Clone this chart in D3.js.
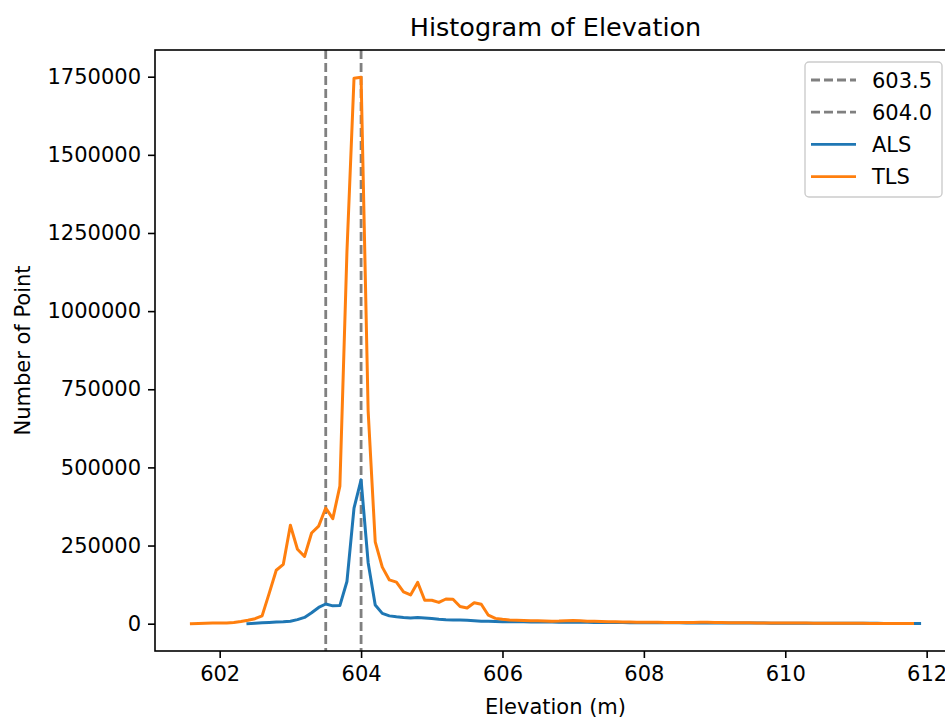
<!DOCTYPE html>
<html>
<head>
<meta charset="utf-8">
<script src="https://cdn.jsdelivr.net/npm/d3@7/dist/d3.min.js"></script>
<style>
	body { margin: 0; background: #fff; }
	text { font-family: "DejaVu Sans", sans-serif; fill: #000; }
</style>
</head>
<body>
<div id="graphed"></div>
<script>
// histogram bins, 0.1 m wide
var binWidth = 0.1;
var alsStart = 602.4;
var tlsStart = 601.6;

var alsCounts = [0, 1500, 3000, 4000, 5000, 6000, 8000, 13000, 20000, 35000,
	52000, 63000, 57000, 58000, 135000, 370000, 460000, 195000, 60000, 33000,
	25000, 22000, 20000, 18500, 20000, 18500, 16500, 14000, 12500, 12000,
	11500, 11000, 9500, 8000, 7500, 7000,
	6500, 6200, 6000, 5800, 5600, 5400, 5200, 5000, 4900, 4800,
	4700, 4500, 4300, 4100, 3900, 3700, 3500, 3400, 3300, 3200,
	3100, 3000, 2900, 2800, 2700, 2600, 2500, 2450, 2400, 2350,
	2300, 2200, 2100, 2000, 1950, 1900, 1850, 1800, 1750, 1700,
	1650, 1600, 1550, 1500, 1450, 1400, 1350, 1300, 1250, 1200,
	1150, 1100, 1050, 1000, 950, 900, 850, 800, 750, 700];

var tlsCounts = [0, 500, 1000, 2000, 2500, 2000, 4000, 7000, 11000, 16000,
	25000, 97000, 171000, 190000, 315000, 238000, 215000, 290000, 312000, 370000,
	336000, 440000, 1190000, 1745000, 1748000, 680000, 262000, 181000, 140000, 133000,
	102000, 92000, 132000, 75000, 75000, 68000, 79000, 78000, 55000, 50000,
	67000, 62000, 27000, 17000, 14000,
	12000, 11000, 10000, 9500, 9000, 8500, 8000, 8500, 9500, 10000,
	9000, 8000, 7500, 7000, 6500, 6000, 5500, 5000, 4800, 4600,
	4400, 4200, 4000, 3800, 3600, 3600, 3800, 4200, 4500, 4000,
	3600, 3300, 3000, 2800, 2600, 2500, 2400, 2300, 2200, 2100,
	2000, 1900, 1800, 1700, 1600, 1500, 1400, 1300, 1200, 1100,
	1000, 950, 900, 850, 800, 700, 650, 600];

var markLines = [603.5, 604.0];
var markLabels = ["603.5", "604.0"];
var seriesNames = ["ALS", "TLS"];
var seriesColors = ["#1f77b4", "#ff7f0e"];
var xTicks = [602, 604, 606, 608, 610, 612];
var yTicks = [0, 250000, 500000, 750000, 1000000, 1250000, 1500000, 1750000];

var W = 945, H = 719;
var mLeft = 155, mRight = 956, mTop = 50, mBottom = 651;
var fontSize = "21px";

function toPoints(start, counts) {
	return counts.map(function(c, i) {
		return [start + i * binWidth, c];
	});
}
var alsData = toPoints(alsStart, alsCounts);
var tlsData = toPoints(tlsStart, tlsCounts);

var xMin = Math.min(alsStart, tlsStart);
var xMax = Math.max(alsStart + (alsCounts.length - 1) * binWidth, tlsStart + (tlsCounts.length - 1) * binWidth);
var xPad = (xMax - xMin) * 0.05;
var yMax = d3.max(alsCounts.concat(tlsCounts));
var yPad = yMax * 0.05;

var x = d3.scaleLinear().domain([xMin - xPad, xMax + xPad]).range([mLeft, mRight]);
var y = d3.scaleLinear().domain([-yPad, yMax + yPad]).range([mBottom, mTop]);

var svg = d3.select("#graphed").append("svg").attr("width", W).attr("height", H);

// dashed reference lines
svg.selectAll("line.mark").data(markLines).enter().append("line")
	.attr("class", "mark")
	.attr("x1", function(d) { return x(d); }).attr("x2", function(d) { return x(d); })
	.attr("y1", mTop).attr("y2", mBottom)
	.attr("stroke", "#808080").attr("stroke-width", 2.8)
	.attr("stroke-dasharray", "9,4");

var line = d3.line().x(function(d) { return x(d[0]); }).y(function(d) { return y(d[1]); });

svg.selectAll("path.series").data([alsData, tlsData]).enter().append("path")
	.attr("class", "series")
	.attr("d", line)
	.attr("fill", "none")
	.attr("stroke", function(d, i) { return seriesColors[i]; })
	.attr("stroke-width", 3)
	.attr("stroke-linejoin", "round").attr("stroke-linecap", "square");

// axes
var xAxis = svg.append("g").attr("transform", "translate(0," + mBottom + ")")
	.call(d3.axisBottom(x).tickValues(xTicks).tickSize(7).tickPadding(7).tickSizeOuter(0).tickFormat(d3.format("d")));
var yAxis = svg.append("g").attr("transform", "translate(" + mLeft + ",0)")
	.call(d3.axisLeft(y).tickValues(yTicks).tickSize(7).tickPadding(7).tickSizeOuter(0).tickFormat(d3.format("d")));
[xAxis, yAxis].forEach(function(a) {
	a.select(".domain").remove();
	a.selectAll("line").attr("stroke", "#000").attr("stroke-width", 1.6);
	a.selectAll("text").attr("font-size", fontSize).attr("font-family", "DejaVu Sans");
});
xAxis.selectAll("text").attr("dy", "0.76em");

// spines
svg.append("rect").attr("x", mLeft).attr("y", mTop)
	.attr("width", mRight - mLeft).attr("height", mBottom - mTop)
	.attr("fill", "none").attr("stroke", "#000").attr("stroke-width", 1.6);

// titles
svg.append("text").attr("x", (mLeft + mRight) / 2).attr("y", 36)
	.attr("text-anchor", "middle").attr("font-size", "25.5px").text("Histogram of Elevation");
svg.append("text").attr("x", (mLeft + mRight) / 2).attr("y", 714)
	.attr("text-anchor", "middle").attr("font-size", fontSize).text("Elevation (m)");
svg.append("text").attr("transform", "translate(30," + ((mTop + mBottom) / 2) + ") rotate(-90)")
	.attr("text-anchor", "middle").attr("font-size", fontSize).text("Number of Point");

// legend
var legend = svg.append("g");
legend.append("rect").attr("x", 805).attr("y", 62).attr("width", 137).attr("height", 135)
	.attr("rx", 4).attr("fill", "#fff").attr("fill-opacity", 0.8)
	.attr("stroke", "#cccccc").attr("stroke-width", 1.4);
var legendItems = [
	{ label: markLabels[0], color: "#808080", dash: "9,4" },
	{ label: markLabels[1], color: "#808080", dash: "9,4" },
	{ label: seriesNames[0], color: seriesColors[0], dash: null },
	{ label: seriesNames[1], color: seriesColors[1], dash: null }
];
var rows = legend.selectAll("g.item").data(legendItems).enter().append("g")
	.attr("class", "item")
	.attr("transform", function(d, i) { return "translate(0," + (80 + i * 32.2) + ")"; });
rows.append("line").attr("x1", 811).attr("x2", 856).attr("y1", 0).attr("y2", 0)
	.attr("stroke", function(d) { return d.color; })
	.attr("stroke-width", 2.8)
	.attr("stroke-dasharray", function(d) { return d.dash; });
rows.append("text").attr("x", 872).attr("y", 0).attr("dy", "0.36em")
	.attr("font-size", fontSize).text(function(d) { return d.label; });
</script>
</body>
</html>
